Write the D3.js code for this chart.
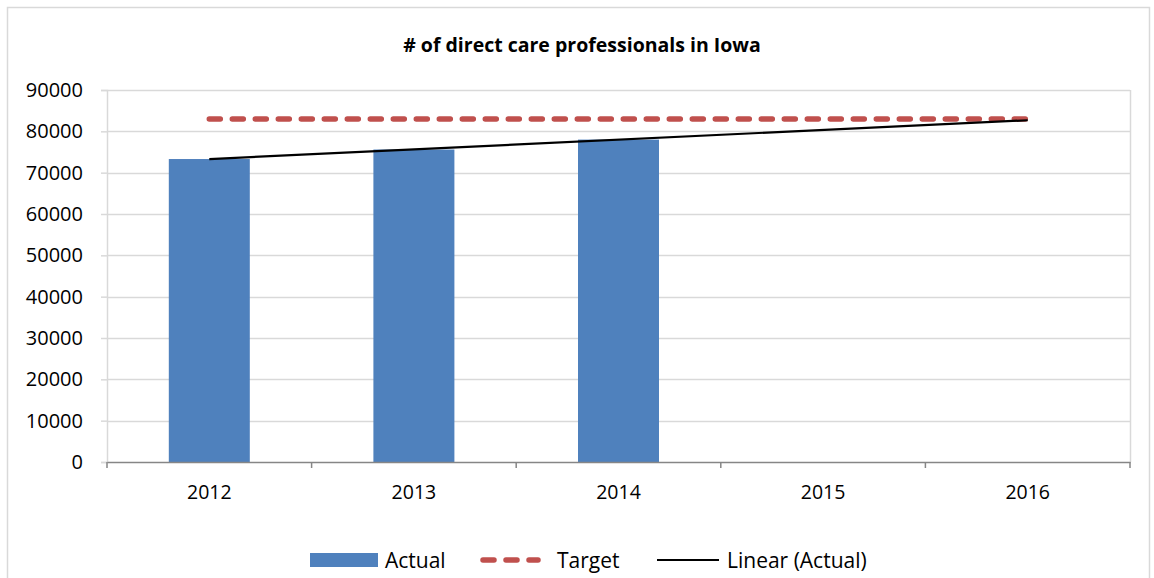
<!DOCTYPE html>
<html><head><meta charset="utf-8">
<script src="https://cdn.jsdelivr.net/npm/d3@7"></script>
<style>body{margin:0;background:#fff;} svg{display:block;font-family:"Open Sans",sans-serif;}</style>
</head><body><svg id="c" width="1154" height="578"></svg>
<script>
const categories = ["2012","2013","2014","2015","2016"];
const actual = [73300, 75600, 78000, null, null];
const target = [83000, 83000, 83000, 83000, 83000];
const yTicks = [0,10000,20000,30000,40000,50000,60000,70000,80000,90000];
const title = "# of direct care professionals in Iowa";
const legendLabels = ["Actual","Target","Linear (Actual)"];

const svg = d3.select("#c");
const m = {l:107, r:1130, t:90, b:462};

svg.append("rect").attr("x",7.5).attr("y",7.5).attr("width",1142).attr("height",580)
  .attr("fill","#fff").attr("stroke","#d9d9d9").attr("stroke-width",1.5);

const x = d3.scaleBand().domain(categories).range([m.l,m.r]).paddingInner(0).paddingOuter(0);
const y = d3.scaleLinear().domain([0,90000]).range([m.b,m.t]);

// gridlines
svg.append("g").selectAll("line").data(yTicks.filter(d=>d>0)).join("line")
  .attr("x1",m.l).attr("x2",m.r).attr("y1",d=>Math.round(y(d))+0.5).attr("y2",d=>Math.round(y(d))+0.5)
  .attr("stroke","#d9d9d9").attr("stroke-width",1.5);
svg.append("line").attr("x1",m.r+0.5).attr("x2",m.r+0.5).attr("y1",m.t).attr("y2",m.b)
  .attr("stroke","#d9d9d9").attr("stroke-width",1.5);

// y axis
const yAxis = svg.append("g").attr("transform",`translate(${m.l},0)`)
  .call(d3.axisLeft(y).tickValues(yTicks).tickSize(6).tickPadding(18).tickFormat(d3.format("d")));
yAxis.select(".domain").attr("stroke","#d9d9d9").attr("stroke-width",1.5);
yAxis.selectAll(".tick line").attr("stroke","#d9d9d9").attr("stroke-width",1.5);
yAxis.selectAll("text").attr("font-size",20).attr("fill","#000").attr("font-family","Open Sans");

// bars
const bw = 81;
svg.append("g").selectAll("rect").data(categories.map((c,i)=>({c,v:actual[i]})).filter(d=>d.v!=null)).join("rect")
  .attr("x",d=>x(d.c)+x.bandwidth()/2-bw/2).attr("width",bw)
  .attr("y",d=>y(d.v)).attr("height",d=>y(0)-y(d.v)).attr("fill","#4f81bd");

// x axis
const xAxis = svg.append("g").attr("transform",`translate(0,${m.b})`)
  .call(d3.axisBottom(x).tickSize(0).tickPadding(23));
xAxis.select(".domain").attr("stroke","#868686").attr("stroke-width",1.5);
xAxis.selectAll("text").attr("font-size",19.5).attr("fill","#000").attr("font-family","Open Sans");
const bounds = categories.map(c=>x(c)).concat([m.r]);
svg.append("g").selectAll("line").data(bounds).join("line")
  .attr("x1",d=>d).attr("x2",d=>d).attr("y1",m.b).attr("y2",m.b+6)
  .attr("stroke","#868686").attr("stroke-width",1.5);

const cx = c => x(c)+x.bandwidth()/2;

// target
svg.append("path").datum(categories.map((c,i)=>[cx(c),y(target[i])]))
  .attr("d",d3.line()).attr("fill","none").attr("stroke","#c0504d").attr("stroke-width",5.5)
  .attr("stroke-linecap","round").attr("stroke-dasharray","11,12");

// linear trend (least squares on Actual)
const pts = actual.map((v,i)=>[i+1,v]).filter(p=>p[1]!=null);
const mx = d3.mean(pts,p=>p[0]), my = d3.mean(pts,p=>p[1]);
const slope = d3.sum(pts,p=>(p[0]-mx)*(p[1]-my))/d3.sum(pts,p=>(p[0]-mx)**2);
const icpt = my - slope*mx;
svg.append("line")
  .attr("x1",cx(categories[0])).attr("y1",y(icpt+slope*1))
  .attr("x2",cx(categories[4])).attr("y2",y(icpt+slope*5))
  .attr("stroke","#000").attr("stroke-width",2.2);

// title
svg.append("text").attr("x",582).attr("y",52).attr("text-anchor","middle")
  .attr("font-size",19.5).attr("font-weight","bold").text(title);

// legend
const ly = 560;
const lg = svg.append("g").attr("font-size",21);
lg.append("rect").attr("x",310).attr("y",ly-7).attr("width",68).attr("height",14).attr("fill","#4f81bd");
lg.append("text").attr("x",385).attr("y",ly+8).text(legendLabels[0]);
lg.append("line").attr("x1",483).attr("x2",538).attr("y1",ly).attr("y2",ly)
  .attr("stroke","#c0504d").attr("stroke-width",5.5).attr("stroke-linecap","round").attr("stroke-dasharray","11,12");
lg.append("text").attr("x",557).attr("y",ly+8).text(legendLabels[1]);
lg.append("line").attr("x1",657).attr("x2",719).attr("y1",ly).attr("y2",ly).attr("stroke","#000").attr("stroke-width",2);
lg.append("text").attr("x",727).attr("y",ly+8).text(legendLabels[2]);
</script></body></html>
